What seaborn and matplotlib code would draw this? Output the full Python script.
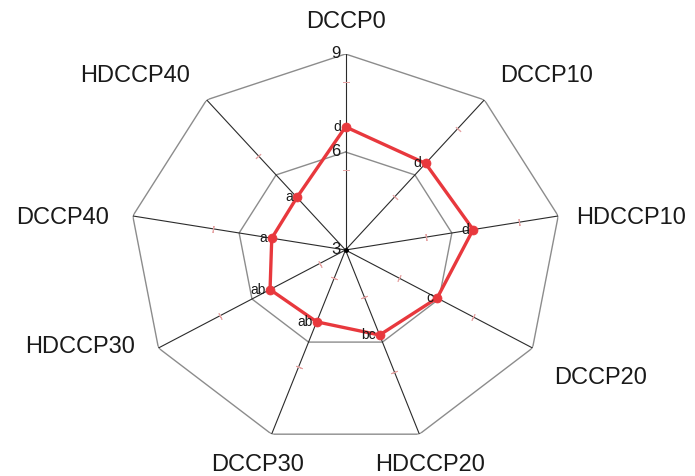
import numpy as np
import pandas as pd
import matplotlib
matplotlib.use("Agg")
import matplotlib.pyplot as plt
import seaborn as sns

# ---- data -------------------------------------------------------------
categories = ["DCCP0", "DCCP10", "HDCCP10", "DCCP20", "HDCCP20",
              "DCCP30", "HDCCP30", "DCCP40", "HDCCP40"]
values = [6.77, 6.46, 6.60, 5.94, 5.77, 5.34, 5.42, 5.08, 5.10]
letters = ["d", "d", "d", "c", "bc", "ab", "ab", "a", "a"]
ring_levels = [6, 9]
scale_labels = [3, 6, 9]
r_min, r_max = 3, 9

# small tick marks along each spoke (in axis units)
spoke_ticks = [[5.46, 8.15], [5.12, 7.85], [5.28, 7.89], [4.73, 7.08],
               [4.52, 6.97], [3.92, 6.80], [3.83, 7.04], [6.74], [6.76]]

# ---- style ------------------------------------------------------------
sns.set_style("white")
plt.rcParams["font.family"] = ["Liberation Sans", "DejaVu Sans"]

RED = "#e8383d"
GRID = "#8c8c8c"
SPOKE = "#2b2b2b"
TICK = "#e6a3a3"
TEXT = "#1a1a1a"

W, H = 695, 476
fig = plt.figure(figsize=(W / 100, H / 100), dpi=100)
cx, cy, rh, rv = 345.5, 250, 216, 196
ax = fig.add_axes([(cx - rh) / W, (H - cy - rv) / H, 2 * rh / W, 2 * rv / H],
                  projection="polar")
ax.set_aspect("auto")
ax.set_theta_zero_location("N")
ax.set_theta_direction(-1)

n = len(categories)
theta = np.arange(n) * 2 * np.pi / n
theta_closed = np.append(theta, 2 * np.pi)

# polygon rings
for lev in ring_levels:
    ax.plot(theta_closed, [lev] * (n + 1), color=GRID, lw=1.0, zorder=1)

# spokes
for t in theta:
    ax.plot([t, t], [r_min, r_max], color=SPOKE, lw=0.8, zorder=1)

# small perpendicular ticks on each spoke
for t, ticks in zip(theta, spoke_ticks):
    a = np.pi / 2 - t
    phi = np.degrees(np.arctan2(rv * np.sin(a), rh * np.cos(a)))
    ax.plot([t] * len(ticks), ticks, linestyle="none",
            marker=(2, 2, phi), markersize=5, mew=0.7, color=TICK, zorder=2)

ax.plot([0], [r_min], marker="o", markersize=2.5, color="black", zorder=3)

# data polygon
df = pd.DataFrame({"theta": theta_closed, "value": values + [values[0]]})
sns.lineplot(data=df, x="theta", y="value", sort=False, estimator=None,
             color=RED, lw=2.4, ax=ax, zorder=4)
sns.scatterplot(x=theta, y=values, color=RED, edgecolor=RED, s=42,
                linewidth=0.5, ax=ax, zorder=5)

ax.set_ylim(r_min, r_max)
ax.grid(False)
ax.spines["polar"].set_visible(False)
ax.set_xticks([])
ax.set_yticks([])
ax.set_xlabel("")
ax.set_ylabel("")

# significance letters
for t, v, s in zip(theta, values, letters):
    ax.annotate(s, xy=(t, v), xytext=(-3, 0), textcoords="offset points",
                ha="right", va="center", fontsize=10, color=TEXT, zorder=6)

# scale labels on the first spoke
for lev in scale_labels:
    ax.annotate(str(lev), xy=(0, lev), xytext=(-3.5, 0),
                textcoords="offset points", ha="right", va="center",
                fontsize=12, color=TEXT, zorder=6)

# category labels
label_pos = [(0.5, 1.088), (0.965, 0.949), (1.161, 0.589), (1.091, 0.181),
             (0.696, -0.041), (0.297, -0.041), (-0.115, 0.258),
             (-0.154, 0.589), (0.013, 0.949)]
for name, (x, y) in zip(categories, label_pos):
    ax.text(x, y, name, transform=ax.transAxes, ha="center",
            va="center_baseline", fontsize=17, color=TEXT, clip_on=False)

fig.savefig("out.png", dpi=100, facecolor="white")
